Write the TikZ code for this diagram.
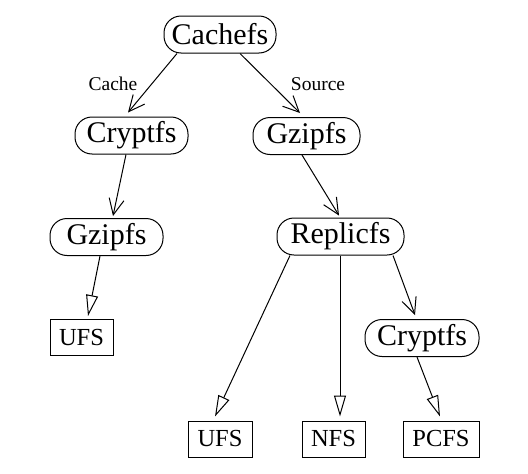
\documentclass[tikz,border=0pt]{standalone}
\usepackage{fontspec}
\setmainfont{Liberation Serif}
\usetikzlibrary{arrows.meta}
\begin{document}
\begin{tikzpicture}[x=1pt,y=-1pt,
  fsnode/.style={draw,line width=1pt,rounded corners=17pt,minimum height=37pt,inner sep=0pt,font=\fontsize{30}{31}\selectfont},
  fsbox/.style={draw,line width=1pt,minimum height=36pt,inner sep=0pt,font=\fontsize{24.5}{26}\selectfont},
  lab/.style={font=\fontsize{19.5}{21}\selectfont,inner sep=0pt},
  stack/.style={line width=1pt,-{Straight Barb[length=16pt,width=15pt,line width=1pt]}},
  bottom/.style={line width=1pt,-{Triangle[open,length=21pt,width=12pt,line width=1pt]}}]
\useasboundingbox (0,0) rectangle (528,474);
\node[fsnode,minimum width=112pt] (cachefs) at (220,34.5) {Cachefs};
\node[fsnode,minimum width=113pt] (cryptL) at (131.5,135.5) {Cryptfs};
\node[fsnode,minimum width=107pt] (gzipR) at (306.5,136) {Gzipfs};
\node[fsnode,minimum width=113pt] (gzipL) at (106.5,237) {Gzipfs};
\node[fsnode,minimum width=127pt] (replic) at (340.5,236.5) {Replicfs};
\node[fsnode,minimum width=114pt] (cryptR) at (422,338) {Cryptfs};
\node[fsbox,minimum width=63pt] (ufsL) at (81.5,337.5) {UFS};
\node[fsbox,minimum width=64pt] (ufsB) at (220,439) {UFS};
\node[fsbox,minimum width=63pt] (nfs) at (333.5,439) {NFS};
\node[fsbox,minimum width=76pt] (pcfs) at (441,439) {PCFS};
\node[lab] (cache) at (113,84) {Cache};
\node[lab] (source) at (318,84) {Source};
\draw[stack] ([xshift=-43pt]cachefs.south) -- ([xshift=-3.5pt,yshift=4pt]cryptL.north);
\draw[stack] ([xshift=20pt]cachefs.south) -- ([xshift=-6.5pt,yshift=4pt]gzipR.north);
\draw[stack] ([xshift=-5.5pt]cryptL.south) -- ([xshift=6.5pt,yshift=2pt]gzipL.north);
\draw[stack] ([xshift=-4.5pt]gzipR.south) -- ([xshift=-1.5pt,yshift=2pt]replic.north);
\draw[stack] ([xshift=52.5pt]replic.south) -- ([xshift=-7pt,yshift=4pt]cryptR.north);
\draw[bottom] ([xshift=-6.5pt]gzipL.south) -- ([xshift=6.5pt,yshift=3pt]ufsL.north);
\draw[bottom] ([xshift=-50.5pt]replic.south) -- ([xshift=-5pt,yshift=4pt]ufsB.north);
\draw[bottom] ([xshift=-0.5pt]replic.south) -- ([xshift=6.5pt,yshift=4pt]nfs.north);
\draw[bottom] ([xshift=-5pt]cryptR.south) -- ([xshift=-1pt,yshift=4pt]pcfs.north);
\end{tikzpicture}
\end{document}
